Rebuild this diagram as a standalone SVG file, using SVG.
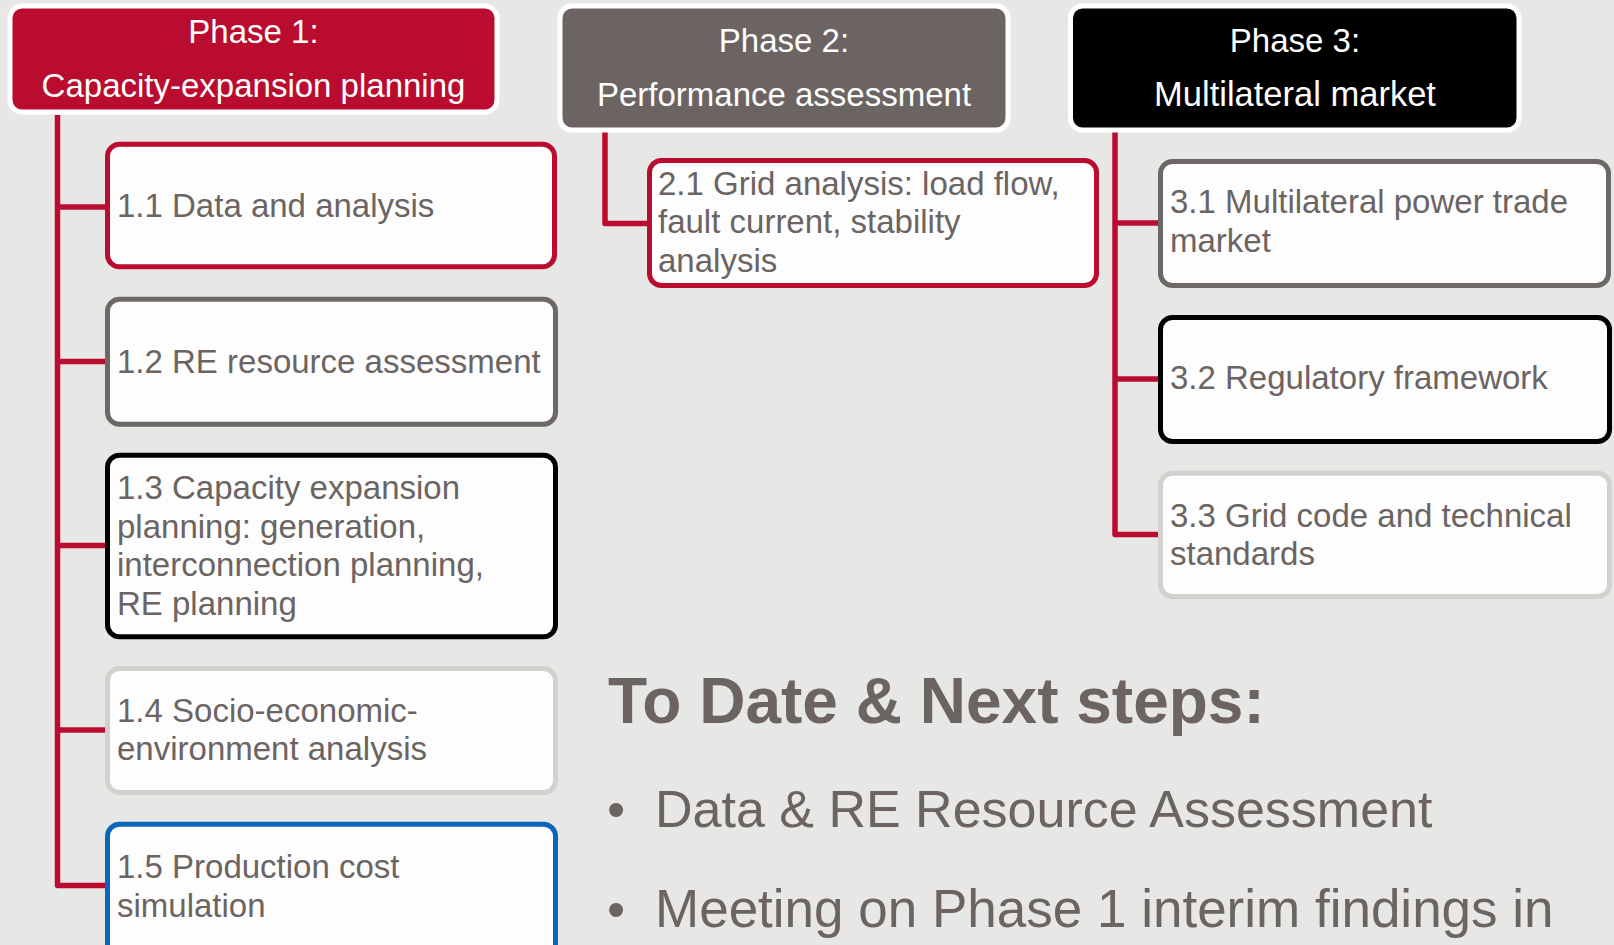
<svg xmlns="http://www.w3.org/2000/svg" width="1614" height="945" viewBox="0 0 1614 945">
<style>
.hdr{stroke:#ffffff;stroke-width:5}
.htxt{font-family:"Liberation Sans",Arial,sans-serif;font-size:33px;fill:#ffffff;text-anchor:middle}
.box{fill:#fdfdfd;stroke-width:5}
.txt{font-family:"Liberation Sans",Arial,sans-serif;font-size:33px;fill:#6b6462}
.red{stroke:#ba0c2f}
.gry{stroke:#6d6765}
.blk{stroke:#000000}
.lgt{stroke:#d2d1ce}
.blu{stroke:#0a66b8}
.conn{fill:none;stroke:#ba0c2f;stroke-width:5.5;stroke-linejoin:round}
.big{font-family:"Liberation Sans",Arial,sans-serif;fill:#6b6462}
</style>
<rect x="0" y="0" width="1614" height="945" fill="#e7e7e5"/>

<g id="connectors">
<path class="conn" d="M57.5 115 V885.5 H106"/>
<path class="conn" d="M57.5 207 H106"/>
<path class="conn" d="M57.5 361.5 H106"/>
<path class="conn" d="M57.5 545.5 H106"/>
<path class="conn" d="M57.5 730 H106"/>
<path class="conn" d="M605 131 V223.5 H648"/>
<path class="conn" d="M1115 132 V534.5 H1159"/>
<path class="conn" d="M1115 223 H1159"/>
<path class="conn" d="M1115 379 H1159"/>
</g>

<g id="phase1">
<rect class="hdr" x="10" y="6" width="487" height="106" rx="12" fill="#ba0c2f"/>
<text class="htxt" x="253.5" y="43">Phase 1:</text>
<text class="htxt" x="253.5" y="97">Capacity-expansion planning</text>
</g>
<g id="phase2">
<rect class="hdr" x="560" y="6" width="448" height="124" rx="12" fill="#6b6462"/>
<text class="htxt" x="784" y="52">Phase 2:</text>
<text class="htxt" x="784" y="106">Performance assessment</text>
</g>
<g id="phase3">
<rect class="hdr" x="1070.5" y="6" width="448.5" height="124" rx="12" fill="#000000"/>
<text class="htxt" x="1295" y="52">Phase 3:</text>
<text class="htxt" x="1295" y="106" style="font-size:34.5px">Multilateral market</text>
</g>

<g id="n11">
<rect class="box red" x="107.5" y="144.2" width="447" height="122.6" rx="12"/>
<text class="txt" x="117" y="216.7">1.1 Data and analysis</text>
</g>
<g id="n12">
<rect class="box gry" x="107.5" y="299.2" width="448" height="125" rx="12"/>
<text class="txt" x="117" y="372.7">1.2 RE resource assessment</text>
</g>
<g id="n13">
<rect class="box blk" x="107.5" y="455.2" width="448" height="181.6" rx="12"/>
<text class="txt" x="117" y="499">1.3 Capacity expansion</text>
<text class="txt" x="117" y="537.5">planning: generation,</text>
<text class="txt" x="117" y="576">interconnection planning,</text>
<text class="txt" x="117" y="614.5">RE planning</text>
</g>
<g id="n14">
<rect class="box lgt" x="107.5" y="668.5" width="448" height="124" rx="12"/>
<text class="txt" x="117" y="721.7">1.4 Socio-economic-</text>
<text class="txt" x="117" y="760">environment analysis</text>
</g>
<g id="n15">
<rect class="box blu" x="107.5" y="824.2" width="448" height="150" rx="12"/>
<text class="txt" x="117" y="878.3">1.5 Production cost</text>
<text class="txt" x="117" y="916.7">simulation</text>
</g>

<g id="n21">
<rect class="box red" x="649.5" y="160.5" width="447" height="125" rx="12"/>
<text class="txt" x="658" y="195">2.1 Grid analysis: load flow,</text>
<text class="txt" x="658" y="233">fault current, stability</text>
<text class="txt" x="658" y="271.7">analysis</text>
</g>

<g id="n31">
<rect class="box gry" x="1160.5" y="161.5" width="448" height="124" rx="12"/>
<text class="txt" x="1170" y="213.3">3.1 Multilateral power trade</text>
<text class="txt" x="1170" y="251.7">market</text>
</g>
<g id="n32">
<rect class="box blk" x="1160.5" y="317.5" width="449" height="124" rx="12"/>
<text class="txt" x="1170" y="389.3">3.2 Regulatory framework</text>
</g>
<g id="n33">
<rect class="box lgt" x="1160.5" y="473.2" width="449" height="123.3" rx="12"/>
<text class="txt" x="1170" y="526.7">3.3 Grid code and technical</text>
<text class="txt" x="1170" y="565">standards</text>
</g>

<g id="notes">
<text class="big" x="608" y="723" font-size="64" font-weight="bold">To Date &amp; Next steps:</text>
<text class="big" x="607" y="826.7" font-size="52">•</text>
<text class="big" x="655" y="826.7" font-size="52">Data &amp; RE Resource Assessment</text>
<text class="big" x="607" y="926.7" font-size="52">•</text>
<text class="big" x="655" y="926.7" font-size="53">Meeting on Phase 1 interim findings in</text>
</g>
</svg>
